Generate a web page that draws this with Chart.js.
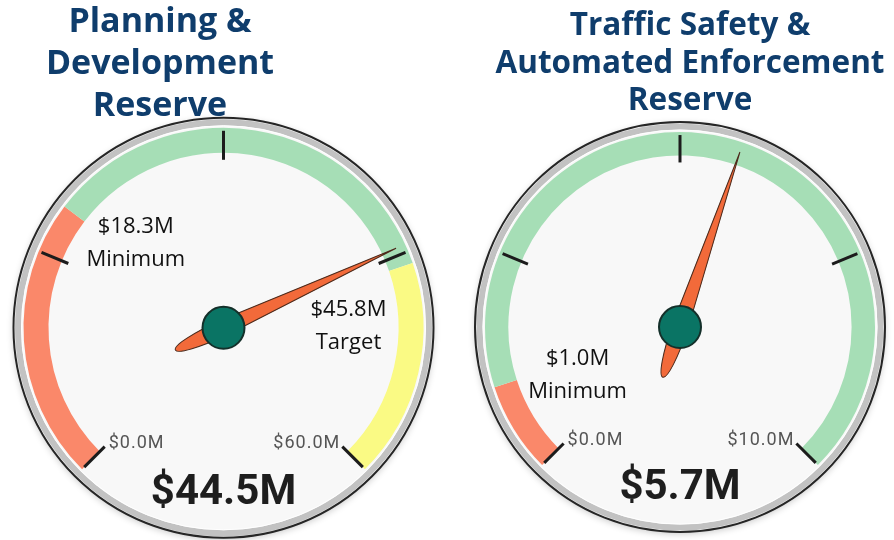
<!DOCTYPE html>
<html>
<head>
<meta charset="utf-8">
<script src="https://cdn.jsdelivr.net/npm/chart.js@4.4.1/dist/chart.umd.min.js"></script>
<style>
  html, body { margin: 0; padding: 0; background: #fff; }
  #page { position: relative; width: 894px; height: 540px; overflow: hidden; }
  .box { position: absolute; top: 0; width: 447px; height: 540px; }
  .title {
    position: absolute;
    font-family: 'Open Sans', sans-serif;
    font-weight: 700;
    color: #0f3d6c;
    text-align: center;
    white-space: nowrap;
  }
</style>
</head>
<body>
<div id="page">
  <div class="box" style="left:0"><canvas id="g0"></canvas></div>
  <div class="box" style="left:447px"><canvas id="g1"></canvas></div>
  <div class="title" id="t0" style="left:0; width:320px; top:-2px; font-size:34px; line-height:42px;"></div>
  <div class="title" id="t1" style="left:490px; width:400px; top:4px; font-size:31.5px; line-height:37.5px;"></div>
</div>
<script>
'use strict';

// Données des deux jauges
const titles = [
  ['Planning &', 'Development', 'Reserve'],
  ['Traffic Safety &', 'Automated Enforcement', 'Reserve'],
];
const currentValues = [44.5, 5.7];
const minimumValues = [18.3, 1.0];
const targetValues = [45.8, null];
const scaleMax = [60, 10];
const tickValues = [
  [0, 15, 30, 45, 60],
  [0, 2.5, 5, 7.5, 10],
];
const markerNames = [
  ['Minimum', 'Target'],
  ['Minimum'],
];

// Palette
const RED = 'rgb(250, 136, 106)';
const GREEN = 'rgb(166, 222, 182)';
const YELLOW = 'rgb(250, 250, 132)';
const NEEDLE = 'rgb(242, 106, 58)';
const HUB = 'rgb(10, 116, 100)';

// Géométrie de chaque jauge (rayon de la bande, marges)
const bandRadius = [200, 195];
const bandCutout = ['87.5%', '88%'];
const paddings = [
  { top: 110, bottom: 53, left: 0, right: 0 },
  { top: 110, bottom: 53, left: 19, right: 0 },
];
// Position des étiquettes Minimum / Target (degrés depuis le haut, rayon)
const markerPlacement = [
  [{ deg: -46, r: 122 }, { deg: 89, r: 125 }],
  [{ deg: -115, r: 113 }],
];

const money = (v) => '$' + v.toFixed(1) + 'M';

// Plugin qui dessine le cadran, les graduations, l'aiguille et les textes
const gaugePlugin = {
  id: 'gauge',
  beforeDatasetsDraw(chart) {
    const { ctx } = chart;
    const arc = chart.getDatasetMeta(0).data[0];
    const { x, y, outerRadius } = arc;
    const rim = outerRadius + 10;
    ctx.save();
    ctx.shadowColor = 'rgba(0, 0, 0, 0.22)';
    ctx.shadowBlur = 7;
    ctx.shadowOffsetY = 2;
    ctx.beginPath();
    ctx.arc(x, y, rim, 0, Math.PI * 2);
    ctx.fillStyle = '#f8f8f8';
    ctx.fill();
    ctx.shadowBlur = 0;
    ctx.shadowOffsetY = 0;
    ctx.shadowColor = 'transparent';
    ctx.beginPath();
    ctx.arc(x, y, rim - 4.5, 0, Math.PI * 2);
    ctx.lineWidth = 6;
    ctx.strokeStyle = '#c2c2c2';
    ctx.stroke();
    ctx.beginPath();
    ctx.arc(x, y, rim - 8, 0, Math.PI * 2);
    ctx.lineWidth = 1;
    ctx.strokeStyle = '#ffffff';
    ctx.stroke();
    ctx.beginPath();
    ctx.arc(x, y, rim, 0, Math.PI * 2);
    ctx.lineWidth = 2;
    ctx.strokeStyle = '#262626';
    ctx.stroke();
    ctx.restore();
  },
  afterDatasetsDraw(chart, args, opts) {
    const { ctx } = chart;
    const i = opts.index;
    const arcs = chart.getDatasetMeta(0).data;
    const { x, y, outerRadius, innerRadius } = arcs[0];
    const start = arcs[0].startAngle;
    const end = arcs[arcs.length - 1].endAngle;
    const max = scaleMax[i];
    const toAngle = (v) => start + (v / max) * (end - start);

    ctx.save();

    // Graduations
    const ticks = tickValues[i];
    ctx.strokeStyle = '#1c1c1c';
    ctx.lineWidth = 3;
    ticks.forEach((v) => {
      const a = toAngle(v);
      ctx.beginPath();
      ctx.moveTo(x + (outerRadius - 3) * Math.cos(a), y + (outerRadius - 3) * Math.sin(a));
      ctx.lineTo(x + (innerRadius - 7) * Math.cos(a), y + (innerRadius - 7) * Math.sin(a));
      ctx.stroke();
    });

    // Étiquettes min et max de l'échelle
    ctx.font = '18px Roboto';
    ctx.letterSpacing = '1px';
    ctx.fillStyle = '#555555';
    ctx.textBaseline = 'middle';
    const first = ticks[0];
    const last = ticks[ticks.length - 1];
    const rl = innerRadius - 7;
    let a = toAngle(first);
    ctx.textAlign = 'left';
    ctx.fillText(money(first), x + rl * Math.cos(a) + 4, y + rl * Math.sin(a) - 3);
    a = toAngle(last);
    ctx.textAlign = 'right';
    ctx.fillText(money(last), x + rl * Math.cos(a) - 2, y + rl * Math.sin(a) - 3);
    ctx.letterSpacing = '0px';

    // Étiquettes Minimum / Target
    const markerValues = [minimumValues[i], targetValues[i]];
    ctx.font = '22px "Open Sans"';
    ctx.fillStyle = '#111111';
    ctx.textAlign = 'center';
    markerNames[i].forEach((name, k) => {
      const p = markerPlacement[i][k];
      const ma = (p.deg - 90) * Math.PI / 180;
      const mx = x + p.r * Math.cos(ma);
      const my = y + p.r * Math.sin(ma);
      ctx.fillText(money(markerValues[k]), mx, my - 16);
      ctx.fillText(name, mx, my + 17);
    });

    // Aiguille
    const na = toAngle(currentValues[i]);
    const len = outerRadius - 10;
    const tail = 53;
    const w = 8;
    ctx.translate(x, y);
    ctx.rotate(na);
    ctx.beginPath();
    ctx.moveTo(len, 0);
    ctx.quadraticCurveTo(len * 0.45, w * 0.6, 0, w);
    ctx.bezierCurveTo(-tail * 0.55, w, -tail, 5, -tail, 0);
    ctx.bezierCurveTo(-tail, -5, -tail * 0.55, -w, 0, -w);
    ctx.quadraticCurveTo(len * 0.45, -w * 0.6, len, 0);
    ctx.closePath();
    ctx.fillStyle = NEEDLE;
    ctx.fill();
    ctx.lineWidth = 1;
    ctx.strokeStyle = '#4a2a1c';
    ctx.stroke();
    ctx.setTransform(chart.currentDevicePixelRatio, 0, 0, chart.currentDevicePixelRatio, 0, 0);

    // Moyeu
    ctx.beginPath();
    ctx.arc(x, y, 21, 0, Math.PI * 2);
    ctx.fillStyle = HUB;
    ctx.fill();
    ctx.lineWidth = 2;
    ctx.strokeStyle = '#14302a';
    ctx.stroke();

    // Valeur actuelle
    ctx.font = 'bold 42px Roboto';
    ctx.fillStyle = '#1e1e1e';
    ctx.textAlign = 'center';
    ctx.textBaseline = 'middle';
    ctx.fillText(money(currentValues[i]), x, y + outerRadius * 0.83);

    ctx.restore();
  },
};

// Création d'une jauge
const makeGauge = (i) => {
  const max = scaleMax[i];
  const min = minimumValues[i];
  const target = targetValues[i] === null ? max : targetValues[i];

  document.getElementById('t' + i).innerHTML = titles[i].join('<br>');

  new Chart(document.getElementById('g' + i), {
    type: 'doughnut',
    data: {
      labels: ['Below minimum', 'Reserve', 'Above target'],
      datasets: [
        {
          data: [min, target - min, max - target],
          backgroundColor: [RED, GREEN, YELLOW],
          borderWidth: 0,
        },
      ],
    },
    options: {
      responsive: true,
      maintainAspectRatio: false,
      animation: false,
      events: [],
      rotation: -135,
      circumference: 270,
      radius: bandRadius[i],
      cutout: bandCutout[i],
      layout: { padding: paddings[i] },
      plugins: {
        legend: { display: false },
        tooltip: { enabled: false },
        gauge: { index: i },
      },
    },
    plugins: [gaugePlugin],
  });
};

makeGauge(0);
makeGauge(1);
</script>
</body>
</html>
